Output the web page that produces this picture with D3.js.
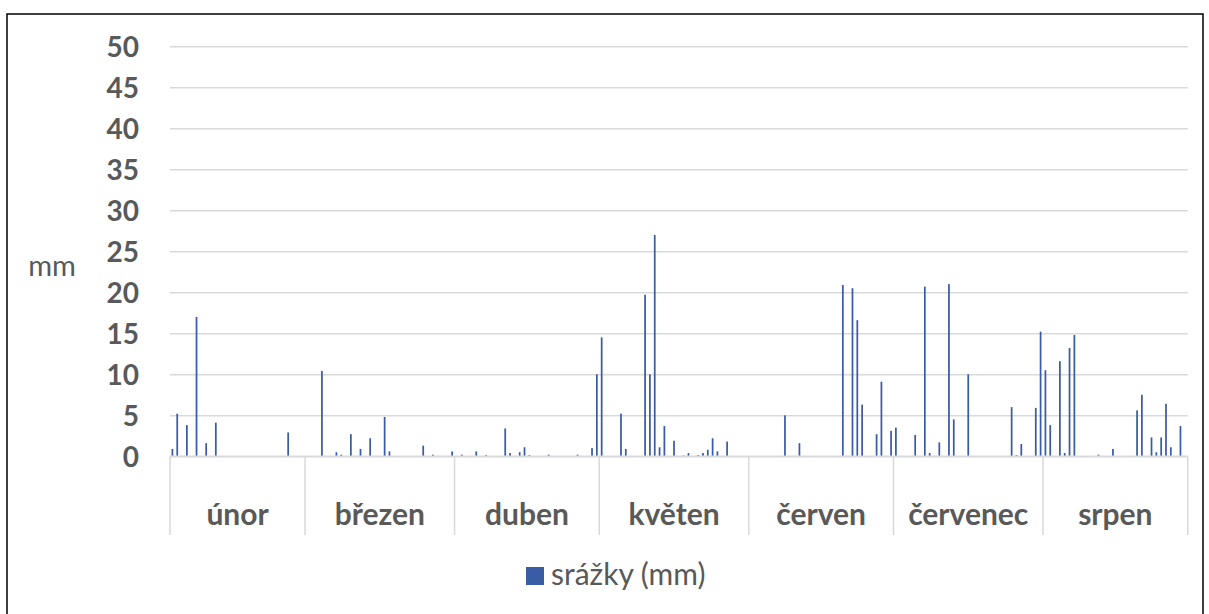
<!DOCTYPE html>
<html>
<head>
<meta charset="utf-8">
<script src="https://cdn.jsdelivr.net/npm/d3@7"></script>
<style>
  body { margin: 0; background: #fff; }
  svg text { font-family: Lato, "Open Sans", sans-serif; }
</style>
</head>
<body>
<div id="chart"></div>
<script>
// daily precipitation (mm), one array per month
const months = ["únor", "březen", "duben", "květen", "červen", "červenec", "srpen"];
const unor = [0.9,5.2,0,3.8,0,17.0,0,1.6,0,4.1, 0,0,0,0,0,0,0,0,0,0, 0,0,0,0,2.9,0,0,0];
const brezen = [0,0,0,10.4,0,0,0.5,0.2,0,2.7, 0,0.9,0,2.2,0,0,4.8,0.6,0,0, 0,0,0,0,1.3,0,0.2,0,0,0, 0.6];
const duben = [0,0.2,0,0,0.6,0,0.15,0,0,0, 3.4,0.4,0,0.5,1.1,0.15,0,0,0,0.2, 0,0,0,0,0,0.2,0,0,1.0,10.0];
const kveten = [14.5,0,0,0,5.2,0.9,0,0,0,19.7, 10.0,27.0,1.1,3.7,0,1.9,0,0.1,0.4,0, 0.15,0.4,0.8,2.2,0.6,0,1.8,0,0,0, 0];
const cerven = [0,0,0,0,0,0,0,5.0,0,0, 1.6,0,0,0,0,0,0,0,0,20.9, 0,20.5,16.6,6.3,0,0,2.7,9.1,0,3.1];
const cervenec = [3.5,0,0,0,2.6,0,20.7,0.4,0,1.7, 0,21.0,4.5,0,0,10.0,0,0,0,0, 0,0,0,0,6.0,0.15,1.5,0,0,5.9, 15.2];
const srpen = [10.5,3.8,0,11.6,0.4,13.2,14.8,0,0,0, 0,0.2,0,0,0.9,0,0,0,0,5.6, 7.5,0,2.3,0.5,2.3,6.4,1.1,0,3.7,0];
const yTicks = [0, 5, 10, 15, 20, 25, 30, 35, 40, 45, 50];
const seriesName = "srážky (mm)";
const axisTitle = "mm";

const monthData = [unor, brezen, duben, kveten, cerven, cervenec, srpen];
let days = [];
let groups = [];
monthData.forEach(function (arr, m) {
    let start = days.length;
    arr.forEach(function (v, d) {
        days.push({ key: m + "-" + (d + 1), month: months[m], value: v });
    });
    groups.push({ name: months[m], start: start, end: days.length - 1 });
});

const W = 1209, H = 614;
const plot = { left: 170, right: 1187.7, top: 46.3, bottom: 456.3 };
const grey = "#595959";
const blue = "#3a5ca5";

const svg = d3.select("#chart").append("svg")
        .attr("width", W)
        .attr("height", H);

svg.append("rect")
        .attr("x", 7).attr("y", 14)
        .attr("width", 1196).attr("height", 620)
        .attr("fill", "#fff")
        .attr("stroke", "#000")
        .attr("stroke-width", 1.5);

const x = d3.scaleBand()
        .domain(days.map(function (d) { return d.key; }))
        .range([plot.left, plot.right])
        .paddingInner(0.64)
        .paddingOuter(0.32);

const y = d3.scaleLinear()
        .domain([0, 50])
        .range([plot.bottom, plot.top]);

// gridlines
svg.append("g")
        .attr("transform", "translate(" + plot.left + ",0)")
        .call(d3.axisLeft(y).tickValues(yTicks).tickSize(-(plot.right - plot.left)).tickFormat(""))
        .call(function (g) {
            g.select(".domain").remove();
            g.selectAll("line").attr("stroke", "#d9d9d9").attr("stroke-width", 1.5);
        });

// y labels
svg.append("g")
        .attr("transform", "translate(139,0)")
        .call(d3.axisLeft(y).tickValues(yTicks).tickSize(0).tickPadding(0))
        .call(function (g) {
            g.select(".domain").remove();
            g.selectAll("text")
                    .attr("fill", grey)
                    .attr("font-size", "28px")
                    .attr("font-weight", "bold")
                    .attr("font-family", "Lato, sans-serif")
                    .attr("dy", "0.36em");
        });

svg.append("text")
        .attr("x", 52).attr("y", 276)
        .attr("text-anchor", "middle")
        .attr("fill", grey)
        .attr("font-size", "29px")
        .text(axisTitle);

// bars
svg.append("g").selectAll("rect")
        .data(days.filter(function (d) { return d.value > 0; }))
        .enter().append("rect")
        .attr("x", function (d) { return x(d.key); })
        .attr("width", x.bandwidth())
        .attr("y", function (d) { return y(d.value); })
        .attr("height", function (d) { return plot.bottom - y(d.value); })
        .attr("fill", blue);

// category axis with month groups
const step = x.step();
const axisG = svg.append("g");
axisG.append("line")
        .attr("x1", plot.left).attr("x2", plot.right)
        .attr("y1", plot.bottom).attr("y2", plot.bottom)
        .attr("stroke", "#d9d9d9").attr("stroke-width", 1.5);

const edges = [plot.left];
groups.forEach(function (g) {
    edges.push(plot.left + (g.end + 1) * step);
});
axisG.selectAll("line.div")
        .data(edges)
        .enter().append("line")
        .attr("class", "div")
        .attr("x1", function (d) { return d; }).attr("x2", function (d) { return d; })
        .attr("y1", plot.bottom).attr("y2", 535)
        .attr("stroke", "#d9d9d9").attr("stroke-width", 1.5);

axisG.selectAll("text")
        .data(groups)
        .enter().append("text")
        .attr("x", function (g) { return plot.left + (g.start + (g.end + 1 - g.start) / 2) * step; })
        .attr("y", 525)
        .attr("text-anchor", "middle")
        .attr("fill", grey)
        .attr("font-size", "30px")
        .attr("font-weight", "bold")
        .text(function (g) { return g.name; });

// legend
const legend = svg.append("g").attr("transform", "translate(526,567)");
legend.append("rect")
        .attr("width", 18).attr("height", 18)
        .attr("fill", blue);
legend.append("text")
        .attr("x", 25).attr("y", 18)
        .attr("fill", grey)
        .attr("font-size", "30px")
        .text(seriesName);
</script>
</body>
</html>
